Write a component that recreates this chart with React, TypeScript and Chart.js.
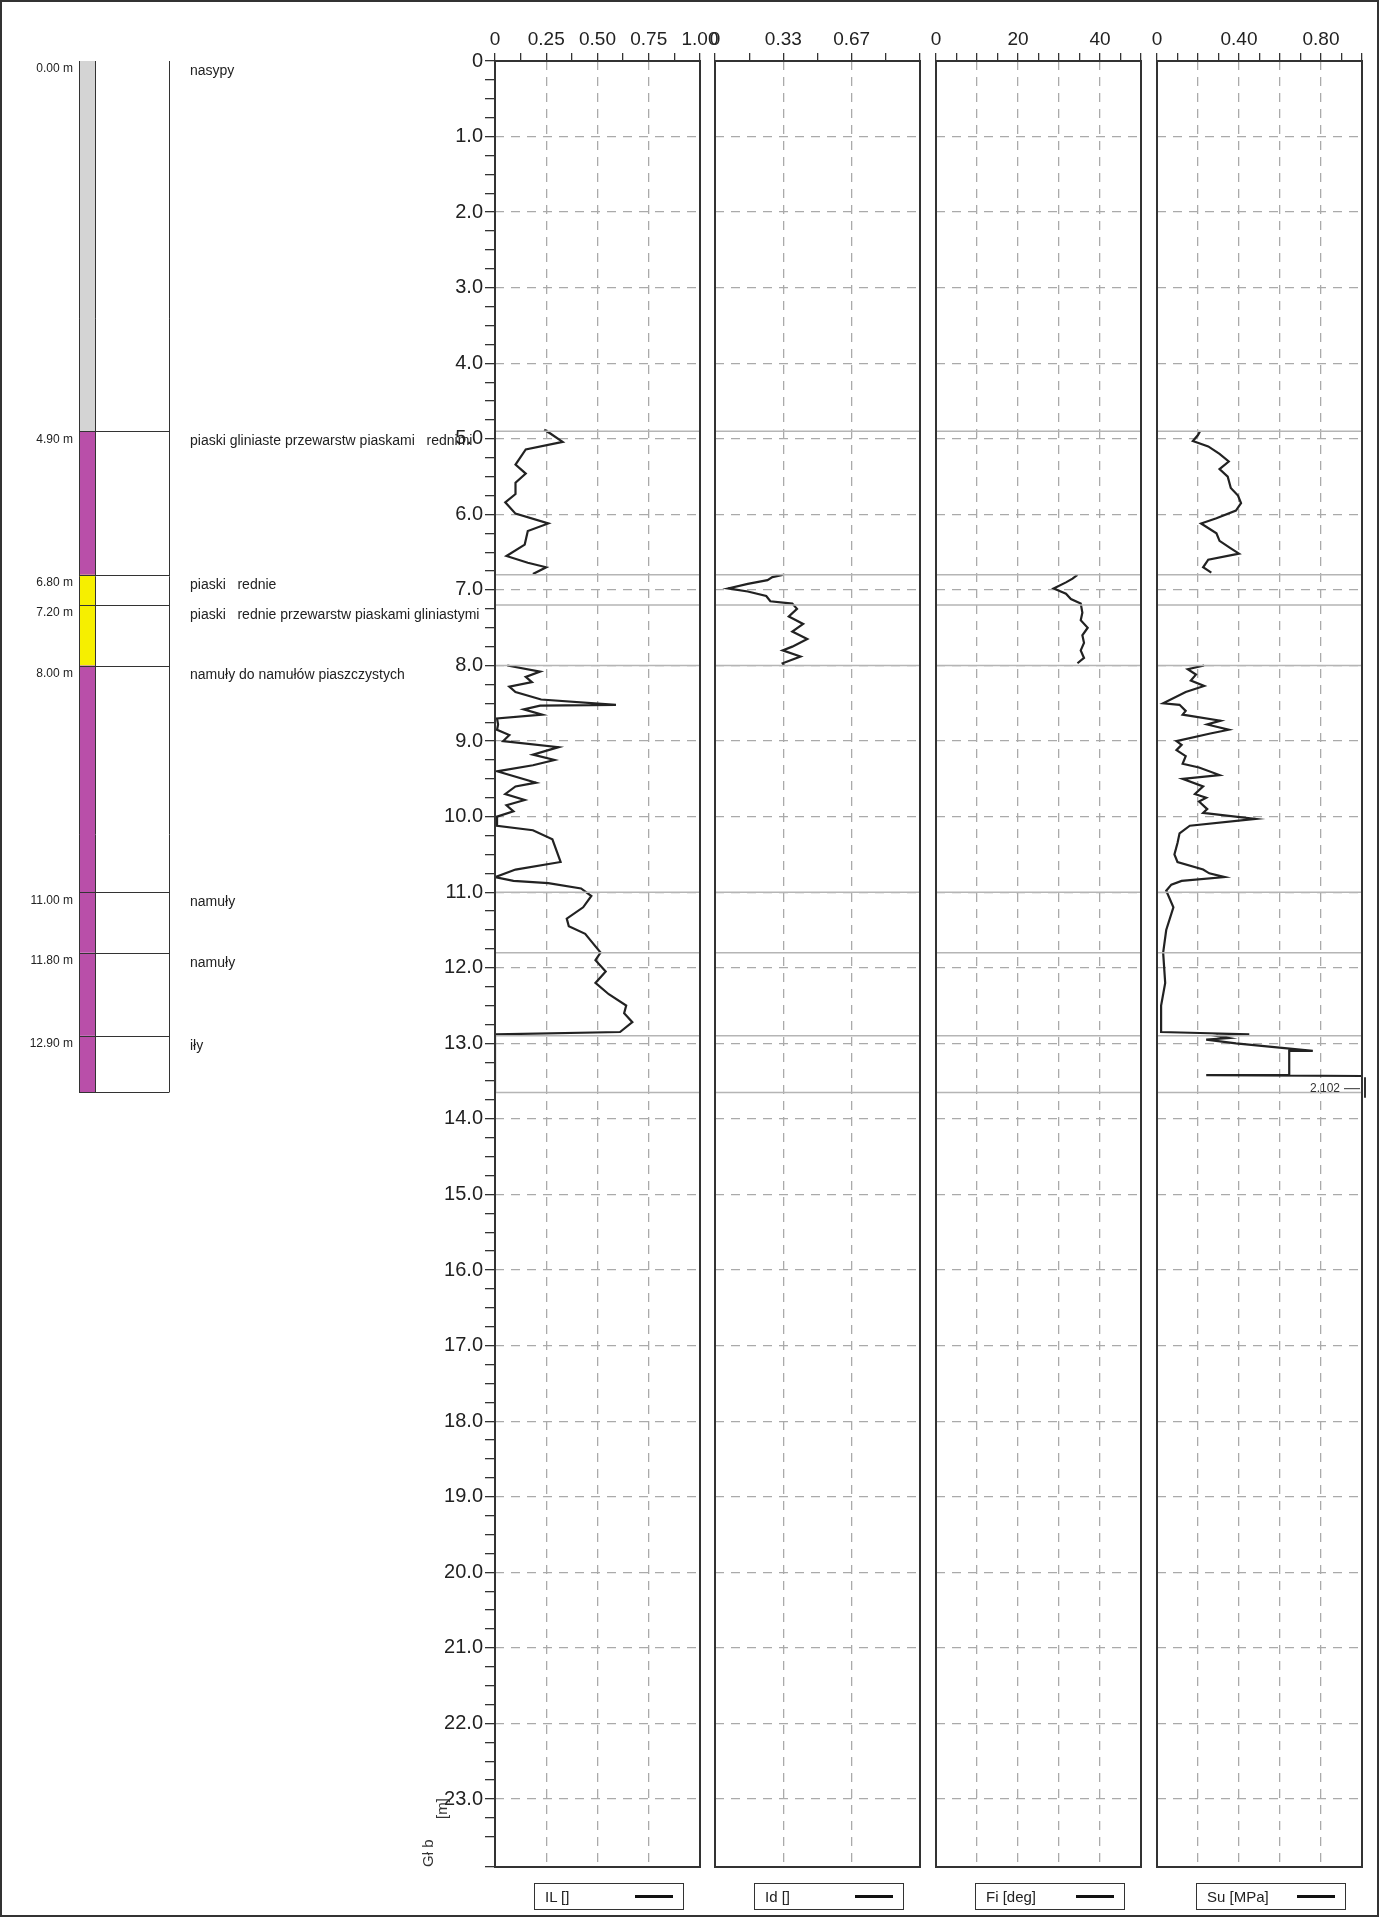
import { useEffect, useRef } from "react"
import { Chart, registerables } from "chart.js"

Chart.register(...registerables)

// ---- data ----
const layerTop = [0, 4.9, 6.8, 7.2, 8.0, 11.0, 11.8, 12.9]
const layerBottom = [4.9, 6.8, 7.2, 8.0, 11.0, 11.8, 12.9, 13.65]
const layerColor = ["#d4d4d4", "#b94fa9", "#f6ef00", "#f6ef00", "#b94fa9", "#b94fa9", "#b94fa9", "#b94fa9"]
const layerName = [
  "nasypy",
  "piaski gliniaste przewarstw piaskami   rednimi",
  "piaski   rednie",
  "piaski   rednie przewarstw piaskami gliniastymi",
  "namuły do namułów piaszczystych",
  "namuły",
  "namuły",
  "iły",
]
const boundaries = [4.9, 6.8, 7.2, 8.0, 11.0, 11.8, 12.9, 13.65]

// null = no measurement (gap in the curve)
const ilDepth = [4.88, 4.93, 5.04, 5.14, 5.34, 5.46, 5.58, 5.73, 5.84, 5.99, 6.12, 6.22, 6.4, 6.55, 6.64, 6.7, 6.79, 7.4,
  8.0, 8.08, 8.15, 8.22, 8.28, 8.35, 8.45, 8.52, 8.53, 8.58, 8.65, 8.7, 8.78, 8.85, 8.92, 9.0, 9.08, 9.18, 9.25, 9.32,
  9.4, 9.55, 9.6, 9.7, 9.78, 9.85, 9.93, 10.0, 10.12, 10.18, 10.3, 10.45, 10.6, 10.7, 10.8, 10.85, 10.88, 10.95, 11.05,
  11.2, 11.35, 11.45, 11.55, 11.65, 11.8, 11.9, 12.05, 12.2, 12.35, 12.5, 12.6, 12.72, 12.85, 12.88, 13.65]
const ilValue = [0.24, 0.27, 0.33, 0.15, 0.1, 0.15, 0.1, 0.1, 0.05, 0.1, 0.26, 0.16, 0.145, 0.056, 0.16, 0.25, 0.185, null,
  0.06, 0.22, 0.15, 0.18, 0.07, 0.1, 0.225, 0.59, 0.22, 0.14, 0.23, 0.01, 0.015, 0.01, 0.07, 0.04, 0.31, 0.185, 0.29, 0.185,
  0.01, 0.2, 0.1, 0.05, 0.145, 0.056, 0.09, 0.01, 0.01, 0.185, 0.28, 0.3, 0.32, 0.1, 0.0, 0.09, 0.26, 0.42, 0.47,
  0.43, 0.35, 0.36, 0.44, 0.47, 0.515, 0.49, 0.54, 0.49, 0.555, 0.64, 0.63, 0.67, 0.61, 0.0, 0.0]

const idDepth = [6.8, 6.83, 6.87, 6.92, 6.98, 7.02, 7.08, 7.15, 7.18, 7.25, 7.35, 7.45, 7.55, 7.65, 7.75, 7.8, 7.88, 7.97, 8.0]
const idValue = [0.33, 0.28, 0.256, 0.16, 0.064, 0.16, 0.25, 0.27, 0.377, 0.4, 0.36, 0.43, 0.377, 0.45, 0.377, 0.33, 0.417, 0.33, 0.336]

const fiDepth = [6.8, 6.85, 6.9, 6.98, 7.05, 7.12, 7.18, 7.3, 7.4, 7.5, 7.6, 7.7, 7.8, 7.9, 7.97]
const fiValue = [34.5, 33.3, 31.7, 28.7, 31.7, 32.9, 35.3, 35.7, 35.3, 37, 35.7, 36.1, 35.3, 36.1, 34.5]

const suDepth = [4.9, 4.95, 5.03, 5.1, 5.2, 5.3, 5.4, 5.5, 5.65, 5.75, 5.85, 5.95, 6.05, 6.12, 6.25, 6.35, 6.45, 6.52, 6.6, 6.7, 6.77, 7.4,
  8.0, 8.05, 8.12, 8.2, 8.27, 8.35, 8.5, 8.52, 8.6, 8.65, 8.73, 8.78, 8.85, 8.9, 9.0, 9.05, 9.12, 9.2, 9.3, 9.35, 9.45, 9.5,
  9.6, 9.7, 9.75, 9.8, 9.9, 9.95, 10.03, 10.12, 10.22, 10.35, 10.5, 10.6, 10.7, 10.75, 10.8, 10.85, 10.9, 10.98, 11.2, 11.5,
  11.8, 12.2, 12.5, 12.85, 12.88, 12.9, 12.93, 12.95, 13.0, 13.1, 13.1, 13.42, 13.42, 13.45, 13.55]
const suValue = [0.21, 0.2, 0.175, 0.25, 0.305, 0.35, 0.305, 0.345, 0.36, 0.395, 0.41, 0.385, 0.29, 0.215, 0.29, 0.305, 0.36, 0.4, 0.25, 0.225, 0.265, null,
  0.23, 0.15, 0.19, 0.165, 0.23, 0.14, 0.03, 0.11, 0.14, 0.125, 0.31, 0.245, 0.35, 0.26, 0.095, 0.12, 0.095, 0.14, 0.125, 0.205, 0.305, 0.125,
  0.225, 0.185, 0.24, 0.205, 0.245, 0.225, 0.48, 0.16, 0.11, 0.1, 0.085, 0.1, 0.225, 0.255, 0.33, 0.12, 0.07, 0.045, 0.08, 0.045,
  0.03, 0.04, 0.02, 0.02, 0.45, 0.29, 0.35, 0.24, 0.385, 0.76, 0.645, 0.645, 0.24, 2.102, 2.102]

const DEPTH_MAX = 23.9
const FONT = "'Liberation Sans', Arial, sans-serif"

const near = (v: number, step: number) => Math.abs(v / step - Math.round(v / step)) < 1e-6

// layer boundary lines + frame
const framePlugin = {
  id: "frame",
  afterDatasetsDraw(chart: any) {
    const { ctx, chartArea: a, scales } = chart
    const y = scales.y
    ctx.save()
    ctx.strokeStyle = "#b5b5b5"
    ctx.lineWidth = 1.5
    boundaries.forEach((d) => {
      const py = y.getPixelForValue(d)
      ctx.beginPath()
      ctx.moveTo(a.left, py)
      ctx.lineTo(a.right, py)
      ctx.stroke()
    })
    ctx.strokeStyle = "#333"
    ctx.lineWidth = 2
    ctx.strokeRect(a.left, a.top, a.right - a.left, a.bottom - a.top)
    ctx.restore()
  },
}

interface PanelProps {
  left: number
  xMax: number
  step: number
  label: (v: number) => string
  grid: (v: number) => boolean
  depth: number[]
  value: (number | null)[]
  showDepth?: boolean
  note?: boolean
}

function Panel({ left, xMax, step, label, grid, depth, value, showDepth, note }: PanelProps) {
  const canvasRef = useRef<HTMLCanvasElement>(null)
  const yw = showDepth ? 95 : 30
  useEffect(() => {
    if (!canvasRef.current) return
    const notePlugin = {
      id: "note",
      afterDraw(chart: any) {
        if (!note) return
        const { ctx, chartArea: a, scales } = chart
        const py = scales.y.getPixelForValue(13.6)
        ctx.save()
        ctx.fillStyle = "#333"
        ctx.strokeStyle = "#333"
        ctx.font = `12px ${FONT}`
        ctx.textAlign = "right"
        ctx.textBaseline = "middle"
        ctx.fillText("2.102", a.right - 22, py)
        ctx.lineWidth = 1
        ctx.beginPath()
        ctx.moveTo(a.right - 18, py)
        ctx.lineTo(a.right - 2, py)
        ctx.stroke()
        ctx.lineWidth = 2
        ctx.beginPath()
        ctx.moveTo(a.right + 3, scales.y.getPixelForValue(13.45))
        ctx.lineTo(a.right + 3, scales.y.getPixelForValue(13.72))
        ctx.stroke()
        ctx.restore()
      },
    }
    const titlePlugin = {
      id: "depthTitle",
      afterDraw(chart: any) {
        if (!showDepth) return
        const { ctx, scales } = chart
        ctx.save()
        ctx.translate(33, scales.y.getPixelForValue(23.9))
        ctx.rotate(-Math.PI / 2)
        ctx.fillStyle = "#333"
        ctx.font = `15px ${FONT}`
        ctx.textAlign = "left"
        ctx.fillText("Gł b", 0, 0)
        ctx.fillText("[m]", 48, 14)
        ctx.restore()
      },
    }
    const chart = new Chart(canvasRef.current, {
      type: "scatter",
      data: {
        datasets: [
          {
            data: depth.map((d, i) => ({ x: value[i] as any, y: d })),
            showLine: true,
            spanGaps: false,
            pointRadius: 0,
            borderColor: "#222",
            borderWidth: 2.2,
            tension: 0,
          },
        ],
      },
      options: {
        animation: false,
        responsive: true,
        maintainAspectRatio: false,
        layout: { padding: { top: 31, bottom: 50, left: 0, right: 30 } },
        plugins: { legend: { display: false }, tooltip: { enabled: false } },
        scales: {
          x: {
            type: "linear",
            position: "top",
            min: 0,
            max: xMax,
            afterFit: (s: any) => {
              s.height = 30
            },
            ticks: {
              stepSize: step,
              autoSkip: false,
              maxRotation: 0,
              padding: 2,
              color: "#222",
              font: { family: FONT, size: 19 },
              callback: (v: any) => label(Number(v)),
            },
            grid: {
              color: (c: any) => (c.tick && grid(c.tick.value) ? "#aaa" : "rgba(0,0,0,0)"),
              tickColor: "#333",
              tickLength: 8,
              lineWidth: 1.3,
            },
            border: { display: false, dash: [9, 7] },
          },
          y: {
            type: "linear",
            reverse: true,
            min: 0,
            max: DEPTH_MAX,
            afterFit: (s: any) => {
              s.width = yw
            },
            ticks: {
              display: !!showDepth,
              stepSize: 0.25,
              autoSkip: false,
              padding: 2,
              color: "#222",
              font: { family: FONT, size: 20 },
              callback: (v: any) => {
                const n = Number(v)
                if (!near(n, 1)) return ""
                return n === 0 ? "0" : n.toFixed(1)
              },
            },
            grid: {
              color: (c: any) =>
                c.tick && near(c.tick.value, 1) && c.tick.value > 0 ? "#aaa" : "rgba(0,0,0,0)",
              tickColor: showDepth ? "#333" : "rgba(0,0,0,0)",
              tickLength: showDepth ? 10 : 0,
              drawTicks: !!showDepth,
              lineWidth: 1.3,
            },
            border: { display: false, dash: [9, 7] },
          },
        },
      },
      plugins: [framePlugin, notePlugin, titlePlugin],
    })
    return () => chart.destroy()
  }, [])
  return (
    <div style={{ position: "absolute", left: left - yw, top: 0, width: yw + 205 + 30, height: 1917 }}>
      <canvas ref={canvasRef} />
    </div>
  )
}

function Litho() {
  const canvasRef = useRef<HTMLCanvasElement>(null)
  useEffect(() => {
    if (!canvasRef.current) return
    const lithoPlugin = {
      id: "litho",
      afterDraw(chart: any) {
        const { ctx, scales } = chart
        const y = scales.y
        const c0 = 79
        const c1 = 95
        const c2 = 169
        ctx.save()
        layerTop.forEach((t, i) => {
          const y0 = y.getPixelForValue(t)
          const y1 = y.getPixelForValue(layerBottom[i])
          ctx.fillStyle = layerColor[i]
          ctx.fillRect(c0, y0, c1 - c0, y1 - y0)
        })
        ctx.strokeStyle = "#333"
        ctx.lineWidth = 1
        const top = y.getPixelForValue(0)
        const bot = y.getPixelForValue(13.65)
        ;[c0, c1, c2].forEach((x) => {
          ctx.beginPath()
          ctx.moveTo(x + 0.5, top)
          ctx.lineTo(x + 0.5, bot)
          ctx.stroke()
        })
        boundaries.forEach((d) => {
          const py = Math.round(y.getPixelForValue(d)) + 0.5
          ctx.beginPath()
          ctx.moveTo(c0, py)
          ctx.lineTo(c2, py)
          ctx.stroke()
        })
        ctx.fillStyle = "#222"
        ctx.textBaseline = "top"
        layerTop.forEach((t, i) => {
          const py = y.getPixelForValue(t)
          ctx.font = `12px ${FONT}`
          ctx.textAlign = "right"
          ctx.fillText(t.toFixed(2) + " m", 73, py + 2)
          ctx.font = `14px ${FONT}`
          ctx.textAlign = "left"
          ctx.fillText(layerName[i], 190, py + 3)
        })
        ctx.restore()
      },
    }
    const chart = new Chart(canvasRef.current, {
      type: "scatter",
      data: { datasets: [{ data: [] }] },
      options: {
        animation: false,
        responsive: true,
        maintainAspectRatio: false,
        layout: { padding: { top: 61, bottom: 50 } },
        plugins: { legend: { display: false }, tooltip: { enabled: false } },
        scales: {
          x: { display: false, min: 0, max: 1 },
          y: { display: false, reverse: true, min: 0, max: DEPTH_MAX },
        },
      },
      plugins: [lithoPlugin],
    })
    return () => chart.destroy()
  }, [])
  return (
    <div style={{ position: "absolute", left: 0, top: 0, width: 495, height: 1917 }}>
      <canvas ref={canvasRef} />
    </div>
  )
}

const legendNames = ["IL []", "Id []", "Fi [deg]", "Su [MPa]"]
const panelLefts = [495, 715, 936, 1157]

export default function App() {
  return (
    <div style={{ position: "absolute", left: 0, top: 0, width: 1379, height: 1917, background: "#fff", fontFamily: FONT }}>
      <Litho />
      <Panel left={495} xMax={1} step={0.125} depth={ilDepth} value={ilValue} showDepth
        label={(v) => (near(v, 0.25) ? (v === 0 ? "0" : v.toFixed(2)) : "")}
        grid={(v) => near(v, 0.25) && v > 0 && v < 1} />
      <Panel left={715} xMax={1} step={1 / 6} depth={idDepth} value={idValue}
        label={(v) => (near(v, 1 / 3) && v < 0.99 ? (v === 0 ? "0" : v.toFixed(2)) : "")}
        grid={(v) => near(v, 1 / 3) && v > 0 && v < 0.99} />
      <Panel left={936} xMax={50} step={5} depth={fiDepth} value={fiValue}
        label={(v) => (near(v, 20) ? String(v) : "")}
        grid={(v) => near(v, 10) && v > 0 && v < 50} />
      <Panel left={1157} xMax={1} step={0.1} depth={suDepth} value={suValue} note
        label={(v) => (near(v, 0.4) && v < 0.99 ? (v === 0 ? "0" : v.toFixed(2)) : "")}
        grid={(v) => near(v, 0.2) && v > 0 && v < 0.99} />
      {legendNames.map((n, i) => (
        <div key={n} style={{
          position: "absolute", left: panelLefts[i] + 39, top: 1883, width: 150, height: 27,
          border: "1.5px solid #333", boxSizing: "border-box", fontSize: 15, color: "#222",
          display: "flex", alignItems: "center", justifyContent: "space-between", padding: "0 10px",
        }}>
          <span>{n}</span>
          <span style={{ width: 38, height: 3, background: "#111", display: "inline-block" }} />
        </div>
      ))}
      <div style={{ position: "absolute", inset: 0, border: "2px solid #333", pointerEvents: "none" }} />
    </div>
  )
}
